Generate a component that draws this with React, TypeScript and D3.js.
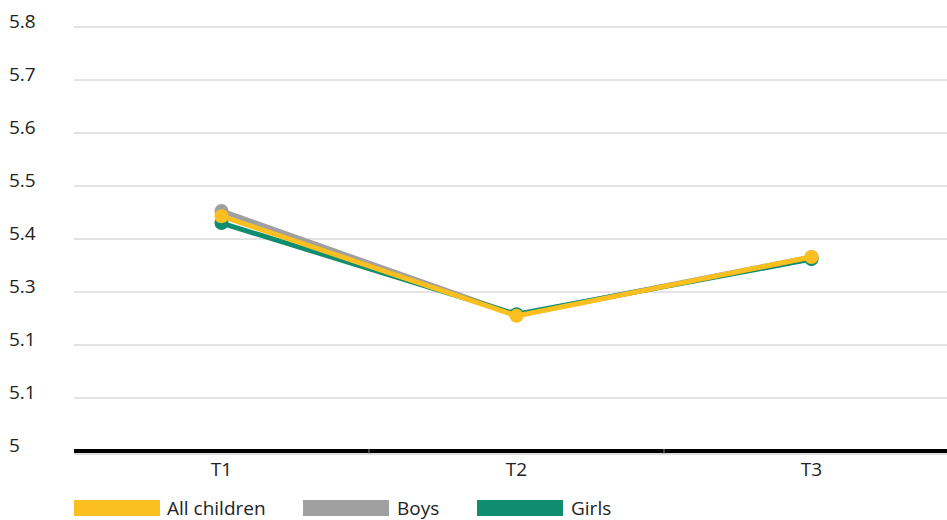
import React from "react";
import * as d3 from "d3";

const categories = ["T1", "T2", "T3"];
const allChildren = [5.443, 5.255, 5.366];
const boys = [5.453, 5.256, 5.366];
const girls = [5.43, 5.258, 5.362];
const yTicks = [5, 5.1, 5.2, 5.3, 5.4, 5.5, 5.6, 5.7, 5.8];
const yTickLabels = ["5", "5.1", "5.1", "5.3", "5.4", "5.5", "5.6", "5.7", "5.8"];

const series = [
  { name: "Boys", values: boys, color: "#a0a0a0" },
  { name: "Girls", values: girls, color: "#108c6e" },
  { name: "All children", values: allChildren, color: "#fbbf1f" },
];
const legendOrder = [
  { name: "All children", color: "#fbbf1f", x: 74, tx: 167 },
  { name: "Boys", color: "#a0a0a0", x: 303, tx: 397 },
  { name: "Girls", color: "#108c6e", x: 477, tx: 571 },
];

export default function App() {
  const W = 947, H = 520;
  const x = d3.scaleBand<string>().domain(categories).range([74, 959]);
  const y = d3.scaleLinear().domain([5, 5.8]).range([451, 27]);
  const line = d3
    .line<number>()
    .x((_, i) => (x(categories[i]) as number) + x.bandwidth() / 2)
    .y((d) => y(d));
  const font = "'Open Sans', 'Noto Sans', sans-serif";
  const fs = 19;
  return (
    <svg width={W} height={H} style={{ position: "absolute", left: 0, top: 0, background: "#fff" }} fontFamily={font}>
      {yTicks.map((t, i) => (
        <g key={t}>
          {i > 0 && <line x1={74} x2={W} y1={y(t)} y2={y(t)} stroke="#c8c8c8" strokeWidth={1} />}
          <text x={9} y={y(t) + 1} fontSize={fs} fill="#222">
            {yTickLabels[i]}
          </text>
        </g>
      ))}
      <line x1={74} x2={W} y1={y(5)} y2={y(5)} stroke="#000" strokeWidth={4} />
      {[1, 2].map((i) => (
        <line key={i} x1={x(categories[i]) as number} x2={x(categories[i]) as number} y1={y(5) - 2} y2={y(5) + 3} stroke="#888" strokeWidth={1} />
      ))}
      <line x1={74} x2={W} y1={y(5) + 3} y2={y(5) + 3} stroke="#bbb" strokeWidth={1} />
      {categories.map((c) => (
        <text key={c} x={(x(c) as number) + x.bandwidth() / 2} y={476} textAnchor="middle" fontSize={fs} fill="#222">
          {c}
        </text>
      ))}
      {series.map((s) => (
        <g key={s.name}>
          <path d={line(s.values) || ""} fill="none" stroke={s.color} strokeWidth={5} />
          {s.values.map((v, i) => (
            <circle key={i} cx={(x(categories[i]) as number) + x.bandwidth() / 2} cy={y(v)} r={7} fill={s.color} />
          ))}
        </g>
      ))}
      {legendOrder.map((l) => (
        <g key={l.name}>
          <rect x={l.x} y={500} width={86} height={16} fill={l.color} />
          <text x={l.tx} y={515} fontSize={fs} fill="#222">
            {l.name}
          </text>
        </g>
      ))}
    </svg>
  );
}
